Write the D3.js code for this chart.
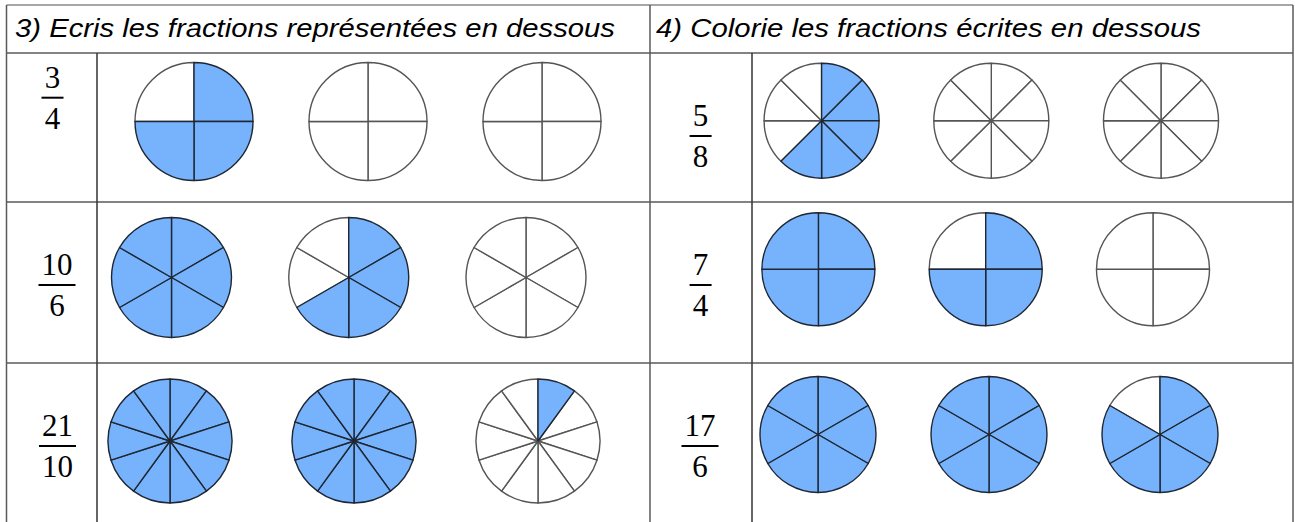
<!DOCTYPE html>
<html>
<head>
<meta charset="utf-8">
<script src="https://cdn.jsdelivr.net/npm/d3@7"></script>
<style>
  html, body { margin: 0; padding: 0; background: #fff; }
  svg { display: block; }
</style>
</head>
<body>
<div class="viz"></div>
<script>
const titles = ['3) Ecris les fractions représentées en dessous', '4) Colorie les fractions écrites en dessous']
const numerators = [3, 10, 21, 5, 7, 17]
const denominators = [4, 6, 10, 8, 4, 6]
const panelOf = [0, 0, 0, 1, 1, 1]
// coloured parts in each of the three discs of a row
const filledParts = [[3, 0, 0], [6, 4, 0], [10, 10, 1], [5, 0, 0], [4, 3, 0], [6, 6, 5]]

const width = 1295
const height = 522

// layout of each row: disc centre line, first/last disc x, radius, fraction bar position
const rowLayout = [
  { cy: 121.5, x0: 194, x1: 542, r: 59, fx: 52.5, fy: 97.7 },
  { cy: 277.5, x0: 171.5, x1: 526, r: 60, fx: 57, fy: 285 },
  { cy: 441, x0: 170, x1: 538, r: 62, fx: 57.5, fy: 446 },
  { cy: 120.7, x0: 821.6, x1: 1161, r: 57.5, fx: 700.6, fy: 136 },
  { cy: 269.3, x0: 818.4, x1: 1153, r: 56.5, fx: 700.6, fy: 285 },
  { cy: 434.5, x0: 818, x1: 1160, r: 58, fx: 700, fy: 446 }
]

const blue = '#77b3fc'
const darkStroke = '#1e2733'
const greyStroke = '#555'

const svg = d3.select('.viz')
  .append('svg')
    .attr('width', width)
    .attr('height', height)

// table grid
const gridX = { left: 6.5, mid: 650, right: 1293, fracL: 97, fracR: 752 }
const gridY = [5, 53, 202, 363]

const grid = svg.append('g')
  .attr('stroke', '#5a5a5a')
  .attr('stroke-width', 1.5)
  .attr('fill', 'none')

grid.selectAll('line.h')
  .data(gridY).enter().append('line')
    .attr('class', 'h')
    .attr('x1', gridX.left)
    .attr('x2', gridX.right)
    .attr('y1', d => d)
    .attr('y2', d => d)
    .attr('stroke', (d, i) => i === 0 ? '#888' : '#5a5a5a')

grid.selectAll('line.v')
  .data([
    { x: gridX.left, y: gridY[0] },
    { x: gridX.mid, y: gridY[0] },
    { x: gridX.right, y: gridY[0] },
    { x: gridX.fracL, y: gridY[1] },
    { x: gridX.fracR, y: gridY[1] }
  ]).enter().append('line')
    .attr('class', 'v')
    .attr('x1', d => d.x)
    .attr('x2', d => d.x)
    .attr('y1', d => d.y)
    .attr('y2', height)
    .attr('stroke', (d, i) => i >= 3 ? '#333' : '#5a5a5a')

// headers
svg.selectAll('text.title')
  .data(titles).enter().append('text')
    .attr('class', 'title')
    .attr('x', (d, i) => i === 0 ? 15 : 656)
    .attr('y', 37)
    .attr('font-family', '"Liberation Sans", Arial, sans-serif')
    .attr('font-style', 'italic')
    .attr('font-size', 25)
    .attr('textLength', (d, i) => i === 0 ? 600 : 545)
    .attr('lengthAdjust', 'spacingAndGlyphs')
    .attr('fill', '#000')
    .text(d => d)

// one record per row
const rows = numerators.map((n, i) => ({
  num: n,
  den: denominators[i],
  panel: panelOf[i],
  filled: filledParts[i],
  layout: rowLayout[i]
}))

const rowG = svg.selectAll('g.row')
  .data(rows).enter().append('g')
    .attr('class', 'row')

// fractions
const frac = rowG.append('g')
  .attr('transform', d => `translate(${d.layout.fx}, ${d.layout.fy})`)
  .attr('font-family', '"Liberation Serif", "Times New Roman", serif')
  .attr('font-size', 31)
  .attr('text-anchor', 'middle')

frac.append('text')
  .attr('y', -10)
  .text(d => d.num)

frac.append('text')
  .attr('y', 31)
  .text(d => d.den)

frac.append('line')
  .attr('x1', d => String(Math.max(d.num, d.den)).length > 1 ? -18.5 : -11)
  .attr('x2', d => String(Math.max(d.num, d.den)).length > 1 ? 18.5 : 11)
  .attr('stroke', '#000')
  .attr('stroke-width', 2)

// discs
const pie = d3.pie().sort(null).value(1)

const discs = rowG.selectAll('g.disc')
  .data(d => {
    const xs = d3.scaleLinear().domain([0, 2]).range([d.layout.x0, d.layout.x1])
    return d.filled.map((f, k) => ({
      cx: xs(k),
      cy: d.layout.cy,
      r: d.layout.r,
      den: d.den,
      filled: f
    }))
  }).enter().append('g')
    .attr('class', 'disc')
    .attr('transform', d => `translate(${d.cx}, ${d.cy})`)

discs.selectAll('path')
  .data(d => {
    const arc = d3.arc().innerRadius(0).outerRadius(d.r)
    const slices = pie(d3.range(d.den)).map((s, j) => ({
      path: arc(s),
      on: j < d.filled
    }))
    // white parts first so the dark outline of coloured parts stays on top
    return slices.filter(s => !s.on).concat(slices.filter(s => s.on))
  }).enter().append('path')
    .attr('d', d => d.path)
    .attr('fill', d => d.on ? blue : '#fff')
    .attr('stroke', d => d.on ? darkStroke : greyStroke)
    .attr('stroke-width', 1.4)
    .attr('stroke-linejoin', 'round')
</script>
</body>
</html>
